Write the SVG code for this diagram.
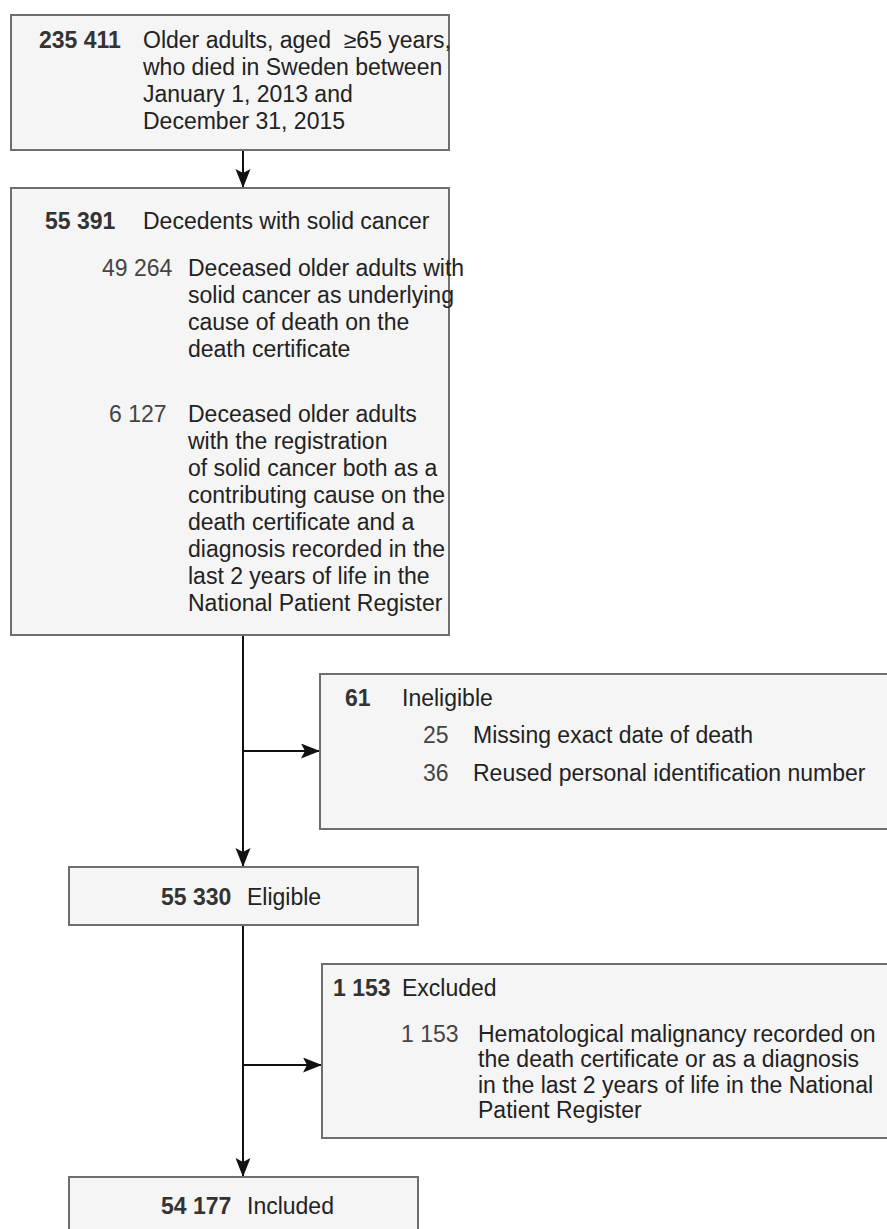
<svg xmlns="http://www.w3.org/2000/svg" width="887" height="1229" viewBox="0 0 887 1229">
<defs>
<marker id="arr" markerWidth="22" markerHeight="16" refX="19" refY="7.5" orient="auto" markerUnits="userSpaceOnUse">
<path d="M0,0 L19,7.5 L0,15 L4,7.5 Z" fill="#111"/>
</marker>
<style>
.box{fill:#f5f5f5;stroke:#6e6e6e;stroke-width:2}
.t{font-family:"Liberation Sans",Arial,sans-serif;font-size:23px;fill:#222}
.b{font-family:"Liberation Sans",Arial,sans-serif;font-size:23px;font-weight:bold;fill:#333}
.n{font-family:"Liberation Sans",Arial,sans-serif;font-size:23px;fill:#444}
.c{fill:none;stroke:#111;stroke-width:2}
</style>
</defs>
<rect width="887" height="1229" fill="#fff"/>
<g id="connectors">
<line class="c" x1="243" y1="151" x2="243" y2="188" marker-end="url(#arr)"/>
<line class="c" x1="243" y1="636" x2="243" y2="867" marker-end="url(#arr)"/>
<line class="c" x1="243" y1="751" x2="320" y2="751" marker-end="url(#arr)"/>
<line class="c" x1="243" y1="926" x2="243" y2="1177" marker-end="url(#arr)"/>
<line class="c" x1="243" y1="1065" x2="322" y2="1065" marker-end="url(#arr)"/>
</g>
<g id="n1">
<rect class="box" x="11" y="15" width="438" height="135"/>
<text class="b" x="39" y="48">235 411</text>
<text class="t" x="143" y="48">Older adults, aged &#160;≥65 years,</text>
<text class="t" x="143" y="75">who died in Sweden between</text>
<text class="t" x="143" y="102">January 1, 2013 and</text>
<text class="t" x="143" y="129">December 31, 2015</text>
</g>
<g id="n2">
<rect class="box" x="11" y="188" width="438" height="447"/>
<text class="b" x="45" y="229">55 391</text>
<text class="t" x="143" y="229">Decedents with solid cancer</text>
<text class="n" x="102" y="276">49 264</text>
<text class="t" x="188" y="276">Deceased older adults with</text>
<text class="t" x="188" y="303">solid cancer as underlying</text>
<text class="t" x="188" y="330">cause of death on the</text>
<text class="t" x="188" y="357">death certificate</text>
<text class="n" x="109" y="422">6 127</text>
<text class="t" x="188" y="422">Deceased older adults</text>
<text class="t" x="188" y="449">with the registration</text>
<text class="t" x="188" y="476">of solid cancer both as a</text>
<text class="t" x="188" y="503">contributing cause on the</text>
<text class="t" x="188" y="530">death certificate and a</text>
<text class="t" x="188" y="557">diagnosis recorded in the</text>
<text class="t" x="188" y="584">last 2 years of life in the</text>
<text class="t" x="188" y="611">National Patient Register</text>
</g>
<g id="n3">
<rect class="box" x="320" y="674" width="570" height="155"/>
<text class="b" x="345" y="706">61</text>
<text class="t" x="402" y="706">Ineligible</text>
<text class="n" x="423" y="743">25</text>
<text class="t" x="473" y="743">Missing exact date of death</text>
<text class="n" x="423" y="781">36</text>
<text class="t" x="473" y="781">Reused personal identification number</text>
</g>
<g id="n4">
<rect class="box" x="69" y="867" width="349" height="58"/>
<text class="b" x="161" y="905">55 330</text>
<text class="t" x="247" y="905">Eligible</text>
</g>
<g id="n5">
<rect class="box" x="322" y="964" width="568" height="174"/>
<text class="b" x="333" y="996">1 153</text>
<text class="t" x="402" y="996">Excluded</text>
<text class="n" x="401" y="1042">1 153</text>
<text class="t" x="478" y="1042">Hematological malignancy recorded on</text>
<text class="t" x="478" y="1067">the death certificate or as a diagnosis</text>
<text class="t" x="478" y="1093">in the last 2 years of life in the National</text>
<text class="t" x="478" y="1118">Patient Register</text>
</g>
<g id="n6">
<rect class="box" x="69" y="1177" width="349" height="70"/>
<text class="b" x="161" y="1214">54 177</text>
<text class="t" x="247" y="1214">Included</text>
</g>
</svg>
